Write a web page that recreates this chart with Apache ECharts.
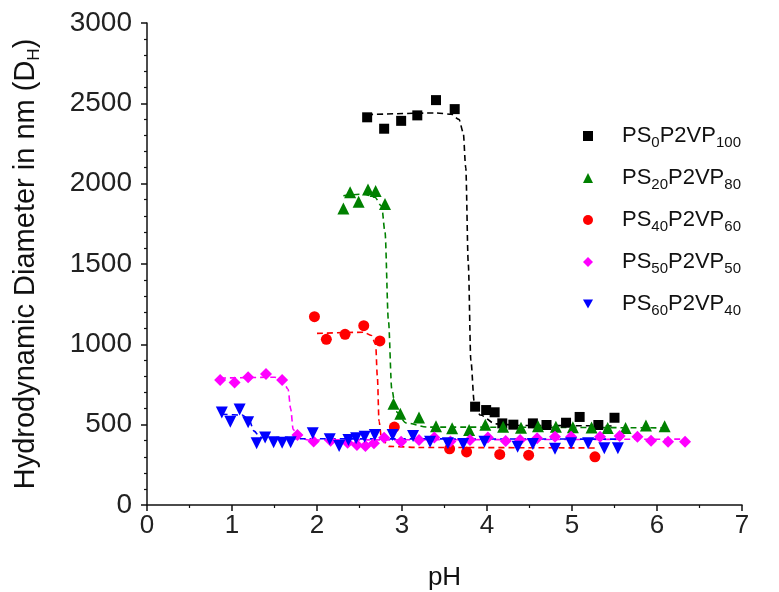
<!DOCTYPE html>
<html><head><meta charset="utf-8">
<script src="https://cdn.jsdelivr.net/npm/echarts@6/dist/echarts.min.js"></script>
<style>html,body{margin:0;padding:0;background:#fff}#c{width:779px;height:592px}</style>
</head><body><div id="c"></div>
<script>
// ---- data (pH, hydrodynamic diameter nm) ----
const ps0 = [[2.59,2413],[2.79,2342],[2.99,2391],[3.18,2425],[3.40,2520],[3.62,2464],[3.86,612],[3.99,591],[4.09,577],[4.18,508],[4.31,500],[4.54,508],[4.70,498],[4.93,512],[5.09,548],[5.31,498],[5.50,543]];
const ps20 = [[2.31,1846],[2.39,1946],[2.49,1887],[2.60,1964],[2.69,1954],[2.80,1873],[2.90,630],[2.98,568],[3.20,544],[3.40,490],[3.59,477],[3.79,467],[3.98,500],[4.19,487],[4.40,481],[4.60,490],[4.81,487],[5.01,484],[5.23,482],[5.42,479],[5.63,479],[5.87,495],[6.09,490]];
const ps40 = [[1.97,1172],[2.11,1031],[2.33,1062],[2.55,1116],[2.74,1021],[2.91,485],[3.56,350],[3.76,330],[4.15,315],[4.49,310],[5.27,300]];
const ps50 = [[0.86,778],[1.03,763],[1.19,795],[1.40,815],[1.59,778],[1.77,436],[1.96,396],[2.16,400],[2.36,388],[2.47,373],[2.57,367],[2.67,384],[2.79,418],[2.99,394],[3.20,405],[3.38,420],[3.57,395],[3.80,405],[4.01,420],[4.22,398],[4.39,405],[4.59,415],[4.80,425],[4.99,425],[5.33,425],[5.56,430],[5.77,425],[5.93,400],[6.13,394],[6.33,394]];
const ps60 = [[0.88,575],[0.98,518],[1.09,595],[1.19,515],[1.29,384],[1.39,420],[1.49,391],[1.59,388],[1.69,391],[1.95,446],[2.15,409],[2.26,367],[2.37,404],[2.46,415],[2.56,425],[2.68,436],[2.89,436],[3.13,430],[3.33,394],[3.54,384],[3.72,380],[3.97,394],[4.36,362],[4.54,380],[4.80,350],[4.99,384],[5.19,384],[5.38,353],[5.54,353]];

// dashed fit curves
const fit0 = [[2.59,2430],[3.40,2440],[3.58,2432],[3.67,2400],[3.72,2320],[3.75,2100],[3.78,1500],[3.81,900],[3.85,640],[3.92,560],[4.10,505],[4.40,495],[5.50,492]];
const fit20 = [[2.31,1925],[2.55,1935],[2.68,1915],[2.76,1860],[2.80,1700],[2.84,1150],[2.88,720],[2.93,580],[3.05,510],[3.30,485],[6.10,480]];
const fit40 = [[2.00,1068],[2.55,1075],[2.64,1055],[2.69,1000],[2.71,800],[2.73,520],[2.76,410],[2.85,365],[3.20,358],[5.30,355]];
const fit50 = [[0.86,790],[1.50,795],[1.60,772],[1.66,720],[1.69,600],[1.72,470],[1.78,420],[1.90,405],[6.35,410]];
const fit60 = [[0.88,565],[1.12,560],[1.20,530],[1.26,460],[1.33,422],[1.50,412],[5.55,410]];

const seriesSubA = ['0','20','40','50','60'];
const seriesSubB = ['100','80','60','50','40'];
const names = seriesSubA.map((a,i)=>'PS'+a+'P2VP'+seriesSubB[i]);
const colors = ['#000000','#008000','#ff0000','#ff00ff','#0000ff'];
const symbols = ['rect','triangle','circle','diamond','triangle'];
const legendIcons = ['rect','triangle','circle','diamond','path://M0,0L10,0L5,9Z'];
const rotates = [0,0,0,0,180];
const sizes = [10,12,11,12,12];
const datasets = [ps0,ps20,ps40,ps50,ps60];
const fits = [fit0,fit20,fit40,fit50,fit60];

const series = [];
fits.forEach((f,i)=>{
  series.push({type:'line',name:'fit'+i,data:f,showSymbol:false,symbol:'none',smooth:0.3,smoothMonotone:'x',
    lineStyle:{color:colors[i],width:1.6,type:[6,4]},z:1,silent:true});
});
datasets.forEach((d,i)=>{
  series.push({type:'scatter',name:names[i],data:d,symbol:symbols[i],symbolRotate:rotates[i],symbolSize:sizes[i],
    itemStyle:{color:colors[i],opacity:1},z:3});
});

const chart = echarts.init(document.getElementById('c'));
chart.setOption({
  backgroundColor:'#fff',
  animation:false,
  textStyle:{fontFamily:'Liberation Sans, Arial, sans-serif'},
  grid:{left:147,right:37,top:23,bottom:87,containLabel:false,outerBoundsMode:'none'},
  legend:{
    data:names.map((n,i)=>({name:n,icon:legendIcons[i]})), orient:'vertical', left:578, top:120, itemGap:17, itemWidth:10, itemHeight:10,
    formatter:(n)=>{const i=names.indexOf(n);return '{a|PS}{b|'+seriesSubA[i]+'}{a|P2VP}{b|'+seriesSubB[i]+'}';},
    textStyle:{padding:[0,0,0,24],rich:{
      a:{fontSize:22,color:'#111',lineHeight:28,fontFamily:'Liberation Sans, Arial, sans-serif'},
      b:{fontSize:15,color:'#111',lineHeight:12,verticalAlign:'bottom',fontFamily:'Liberation Sans, Arial, sans-serif'}}}
  },
  xAxis:{type:'value',min:0,max:7,interval:1,name:'pH',nameLocation:'middle',nameGap:60,
    nameTextStyle:{fontSize:26,color:'#111'},
    axisLine:{show:true,lineStyle:{color:'#111',width:1.5}},
    axisTick:{show:true,inside:false,length:6,lineStyle:{color:'#111',width:1.5}},
    minorTick:{show:true,splitNumber:2,length:3,lineStyle:{color:'#111',width:1.2}},
    axisLabel:{fontSize:26,color:'#222',margin:8},
    splitLine:{show:false}},
  yAxis:{type:'value',min:0,max:3000,interval:500,
    name:'{a|Hydrodynamic Diameter in nm (D}{b|H}{a|)}',nameLocation:'middle',nameGap:104,nameRotate:90,
    nameTextStyle:{rich:{a:{fontSize:29,color:'#111',lineHeight:34},b:{fontSize:17,color:'#111',lineHeight:16,verticalAlign:'bottom'}}},
    axisLine:{show:true,lineStyle:{color:'#111',width:1.5}},
    axisTick:{show:true,inside:false,length:6,lineStyle:{color:'#111',width:1.5}},
    minorTick:{show:true,splitNumber:5,length:3,lineStyle:{color:'#111',width:1.2}},
    axisLabel:{fontSize:28,color:'#222',margin:15,formatter:(v)=>String(v)},
    splitLine:{show:false}},
  series:series
});
</script></body></html>
